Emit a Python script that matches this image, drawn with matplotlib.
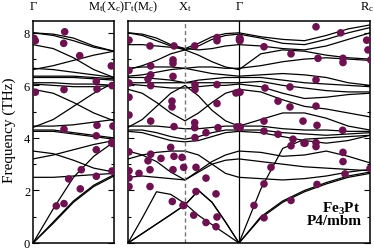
import matplotlib
matplotlib.use('Agg')
import matplotlib.pyplot as plt
import numpy as np

plt.rcParams['font.family'] = ['Liberation Serif', 'DejaVu Serif']
plt.rcParams['mathtext.fontset'] = 'custom'
plt.rcParams['mathtext.rm'] = 'Liberation Serif'
plt.rcParams['mathtext.it'] = 'Liberation Serif:italic'
plt.rcParams['mathtext.bf'] = 'Liberation Serif:bold'

# ---- data ----
# 左图: Gamma -> M_t(X_c), 5 个采样点
left_x = [0, 20.25, 40.5, 60.75, 81]
left_bands = [
    [8.0, 7.95, 7.8, 7.5, 7.3],
    [8.0, 7.9, 7.7, 7.45, 7.3],
    [7.55, 7.4, 7.05, 6.6, 6.3],
    [6.6, 6.75, 6.95, 7.15, 7.3],
    [6.65, 6.6, 6.5, 6.4, 6.3],
    [6.35, 6.35, 6.35, 6.3, 6.25],
    [6.3, 6.3, 6.3, 6.25, 6.2],
    [6.1, 6.1, 6.05, 6.05, 6.0],
    [6.05, 6.0, 5.95, 5.95, 6.0],
    [5.85, 5.7, 5.35, 4.95, 4.65],
    [4.4, 4.7, 5.2, 5.7, 6.1],
    [4.45, 4.45, 4.5, 4.6, 4.7],
    [4.3, 4.3, 4.2, 4.1, 4.0],
    [4.25, 4.25, 4.15, 4.05, 3.95],
    [3.5, 3.4, 3.15, 2.85, 2.7],
    [3.2, 3.35, 3.55, 3.75, 3.9],
    [2.5, 2.5, 2.55, 2.6, 2.65],
    [0.0, 1.3, 2.5, 3.3, 3.85],
    [0.0, 0.8, 1.6, 2.2, 2.6],
    [0.0, 0.75, 1.55, 2.15, 2.55],
]
left_dots_x = [1, 2.3, 31.7, 30.7, 46.7, 78.3, 2.3, 31, 63.3, 64, 79, 31, 64, 80,
               63.3, 63.3, 79, 79, 48.3, 35.7, 63.3, 79, 47.3, 23.3, 31]
left_dots_f = [7.79, 7.7, 8.04, 7.6, 7.13, 6.74, 5.74, 5.84, 6.15, 5.86, 5.99, 4.33, 4.48, 4.45,
               4.08, 3.55, 3.85, 3.79, 2.79, 2.44, 2.54, 2.74, 2.06, 1.41, 1.5]

# 右图: Gamma_t(M_c) -> X_t -> Gamma -> R_c
right_x = [0, 14.25, 28.5, 42.75, 57, 70.5, 84, 97.5, 111,
           132.8, 154.7, 176.5, 198.3, 220.2, 242]
right_bands = [
    [8.0, 7.95, 7.8, 7.55, 7.4, 7.6, 7.85, 7.97, 8.0, 7.85, 7.75, 7.7, 7.9, 8.15, 8.3],
    [8.0, 7.9, 7.7, 7.5, 7.35, 7.5, 7.75, 7.9, 7.95, 7.8, 7.6, 7.55, 7.75, 8.0, 8.2],
    [7.55, 7.55, 7.5, 7.45, 7.4, 7.35, 7.4, 7.5, 7.55, 7.5, 7.4, 7.35, 7.5, 7.75, 8.0],
    [6.6, 6.75, 6.95, 7.2, 7.35, 7.15, 6.9, 6.7, 6.6, 7.2, 7.35, 7.3, 7.15, 7.05, 7.0],
    [6.65, 6.7, 6.7, 6.7, 6.65, 6.7, 6.7, 6.65, 6.65, 6.75, 6.9, 7.0, 7.05, 7.0, 6.95],
    [6.35, 6.4, 6.5, 6.6, 6.65, 6.55, 6.45, 6.4, 6.35, 6.4, 6.45, 6.4, 6.3, 6.1, 6.0],
    [6.3, 6.3, 6.25, 6.2, 6.1, 6.2, 6.25, 6.3, 6.3, 6.3, 6.2, 6.1, 6.05, 6.0, 5.95],
    [6.1, 6.1, 6.1, 6.1, 6.1, 6.1, 6.1, 6.1, 6.1, 6.15, 6.0, 5.9, 5.8, 5.75, 5.75],
    [6.05, 6.0, 5.95, 5.9, 5.9, 5.95, 6.0, 6.0, 6.05, 5.95, 5.7, 5.5, 5.55, 5.65, 5.7],
    [5.85, 5.7, 5.35, 4.95, 4.65, 4.95, 5.35, 5.7, 5.85, 5.75, 5.45, 5.2, 5.1, 4.95, 4.8],
    [4.4, 4.7, 5.2, 5.7, 6.0, 5.6, 5.05, 4.65, 4.45, 4.7, 4.95, 4.95, 4.75, 4.45, 4.3],
    [4.45, 4.45, 4.45, 4.4, 4.35, 4.35, 4.4, 4.45, 4.45, 4.45, 4.35, 4.3, 4.3, 4.25, 4.25],
    [4.3, 4.3, 4.2, 4.05, 3.95, 4.05, 4.2, 4.3, 4.3, 4.3, 4.2, 4.15, 4.1, 4.15, 4.2],
    [4.25, 4.2, 4.05, 3.9, 3.85, 3.9, 4.05, 4.2, 4.25, 4.2, 4.05, 3.9, 3.8, 3.9, 4.1],
    [3.2, 3.35, 3.45, 3.5, 3.5, 3.35, 3.0, 2.65, 2.5, 2.45, 2.4, 2.45, 2.55, 2.7, 2.8],
    [3.5, 3.35, 3.1, 2.7, 2.4, 2.75, 3.1, 3.35, 3.5, 3.45, 3.3, 3.35, 3.5, 3.3, 3.05],
    [2.5, 2.55, 2.5, 2.45, 2.4, 2.7, 3.0, 3.15, 3.2, 3.1, 3.0, 2.9, 2.85, 2.8, 2.75],
    [0.0, 0.36, 0.72, 1.08, 1.45, 2.0, 1.55, 0.8, 0.0, 2.05, 3.6, 3.95, 4.0, 4.05, 4.1],
    [0.0, 0.95, 1.95, 1.85, 1.5, 1.05, 0.7, 0.35, 0.0, 1.0, 1.6, 2.0, 2.3, 2.55, 2.7],
    [0.0, 0.36, 0.72, 1.08, 1.45, 2.0, 1.55, 0.8, 0.0, 0.95, 1.55, 1.95, 2.25, 2.5, 2.65],
]
right_dots_x = [1, 22, 46, 1, 22.7, 45, 45, 45, 22.7, 20, 22.7, 1, 1, 44, 44, 1, 22.7, 46,
                1, 22.7, 42.7, 46, 54, 20, 33, 45, 22, 11, 1, 1, 1, 22, 44.3, 55,
                66.7, 89, 89, 111.5, 111.5, 67, 67, 89, 108, 111, 89, 66.7, 66.7, 90, 109, 112,
                78, 67, 55.7, 68, 78, 68, 88, 55.7, 65.7, 78, 89, 88,
                112, 112, 136, 163, 112, 137, 150, 162, 162, 175, 136, 112, 136, 150, 165,
                163, 176, 143, 136, 126, 136, 163,
                188, 212.7, 238.7, 240, 242.7, 190, 215, 215, 188, 188, 177, 189, 214.7,
                188, 188, 215, 215, 217, 242, 189]
right_dots_f = [7.72, 7.5, 7.5, 6.57, 6.74, 6.97, 6.84, 6.34, 6.4, 6.24, 5.99, 6.09, 5.55, 5.4,
                5.18, 4.87, 4.64, 4.43, 3.47, 3.38, 3.64, 3.3, 3.26, 3.13, 3.22, 2.79, 2.79,
                2.65, 2.75, 2.48, 2.15, 2.15, 1.58, 1.43,
                7.5, 7.82, 7.7, 7.79, 7.72, 6.03, 5.84, 6.03, 5.71, 5.74, 5.31, 4.58, 4.39,
                4.39, 4.42, 4.42, 4.2, 4.01, 2.88, 2.88, 2.47, 1.96, 1.87, 1.43, 1.06, 0.78,
                0.99, 0.62,
                7.79, 7.7, 7.47, 7.2, 5.74, 5.9, 5.4, 5.94, 5.18, 4.64, 4.64, 4.39, 4.26,
                4.14, 3.95, 3.7, 3.8, 2.88, 2.25, 1.43, 0.96, 1.62,
                8.23, 8.0, 7.72, 7.35, 6.97, 7.03, 7.03, 6.87, 6.21, 5.21, 3.8, 4.48, 4.29,
                3.82, 3.67, 3.45, 3.1, 2.63, 2.84, 2.23]

top_labels = ['Γ', r'M$_\mathrm{t}$(X$_\mathrm{c}$)', r'Γ$_\mathrm{t}$(M$_\mathrm{c}$)',
              r'X$_\mathrm{t}$', 'Γ', r'R$_\mathrm{c}$']
top_label_px = [33, 106, 141, 185, 239, 367]

W, H = 374, 251
fig = plt.figure(figsize=(W / 100, H / 100), dpi=100)
ax1 = fig.add_axes([33 / W, 7 / H, 81 / W, 222 / H])
ax2 = fig.add_axes([128 / W, 7 / H, 242 / W, 222 / H])

dot_color = '#6e1150'

# 左图
for b in left_bands:
    ax1.plot(left_x, b, color='black', lw=0.9)
ax1.scatter(left_dots_x, left_dots_f, s=30, color=dot_color, zorder=3, edgecolors='none')
ax1.set_xlim(0, 81)

# 右图
for b in right_bands:
    ax2.plot(right_x, b, color='black', lw=0.9)
ax2.scatter(right_dots_x, right_dots_f, s=30, color=dot_color, zorder=3, edgecolors='none')
ax2.axvline(57, color='#777777', lw=1.0, ls=(0, (3, 2)))
ax2.axvline(111, color='black', lw=0.9)
ax2.set_xlim(0, 242)

for ax in (ax1, ax2):
    ax.set_ylim(0, 8.45)
    ax.set_xticks([])
    ax.set_yticks([0, 2, 4, 6, 8])
    ax.set_yticks([1, 3, 5, 7], minor=True)
    ax.tick_params(axis='y', which='both', direction='in', left=True, right=True,
                   labelsize=9, pad=2)
    ax.tick_params(axis='y', which='major', length=4, width=0.8)
    ax.tick_params(axis='y', which='minor', length=2.5, width=0.8)
    for s in ax.spines.values():
        s.set_linewidth(1.1)
ax2.tick_params(axis='y', labelleft=False)

# 标签
fig.text(9 / W, 1 - 130 / H, 'Frequency (THz)', rotation=90, ha='center', va='center',
         fontsize=11)
for lab, px in zip(top_labels, top_label_px):
    fig.text(px / W, 1 - 7 / H, lab, ha='center', va='center', fontsize=9)

fig.text(341 / W, 1 - 209 / H, r'Fe$_\mathbf{3}$Pt', ha='center', va='center',
         fontsize=11, fontweight='bold')
fig.text(334 / W, 1 - 222 / H, 'P4/mbm', ha='center', va='center',
         fontsize=11, fontweight='bold')

fig.savefig('out.png', dpi=100)
